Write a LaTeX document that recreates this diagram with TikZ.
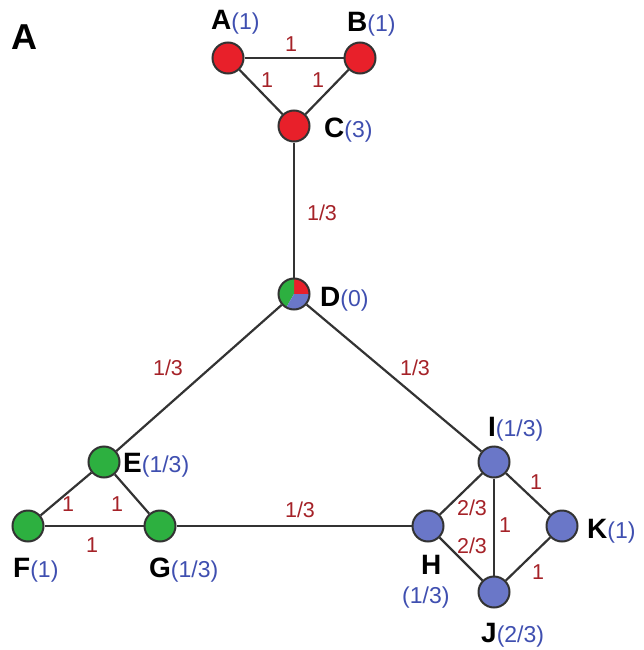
\documentclass[tikz,border=0pt]{standalone}
\usepackage{fontspec}
\setmainfont{Liberation Sans}
\definecolor{nred}{HTML}{E8202A}
\definecolor{ngreen}{HTML}{2DB040}
\definecolor{nblue}{HTML}{6A77C8}
\definecolor{tblue}{HTML}{3F4FB0}
\definecolor{tred}{HTML}{A52228}
\definecolor{edgec}{HTML}{333333}
\newcommand{\bval}[1]{\textcolor{tblue}{\fontsize{23}{23}\selectfont\mdseries#1}}
\begin{document}
\begin{tikzpicture}[x=1pt,y=-1pt,
  vert/.style={circle,minimum size=31pt,inner sep=0pt,draw=edgec,line width=2pt},
  rv/.style={vert,fill=nred},
  gv/.style={vert,fill=ngreen},
  bv/.style={vert,fill=nblue},
  edge/.style={draw=edgec,line width=2.2pt},
  wl/.style={text=tred,font=\fontsize{21.5}{21.5}\selectfont,inner sep=0pt},
  nl/.style={anchor=base west,inner sep=0pt,font=\fontsize{28}{28}\selectfont\bfseries},
  bl/.style={text=tblue,font=\fontsize{23}{23}\selectfont\mdseries}]
\useasboundingbox (0,0) rectangle (644,650);
% vertices
\node[rv] (A) at (228,58) {};
\node[rv] (B) at (360,58) {};
\node[rv] (C) at (294,126) {};
\node[vert,draw=none] (D) at (294,294) {};
\node[gv] (E) at (104,462) {};
\node[gv] (F) at (28,526) {};
\node[gv] (G) at (160,526) {};
\node[bv] (H) at (428,526) {};
\node[bv] (I) at (494,462) {};
\node[bv] (K) at (562,526) {};
\node[bv] (J) at (494,592) {};
% pie for D (y axis points down: negative angles go up)
\fill[nred] (D.center) -- ++(0:15.5) arc[start angle=0,end angle=-90,radius=15.5] -- cycle;
\fill[ngreen] (D.center) -- ++(-90:15.5) arc[start angle=-90,end angle=-240,radius=15.5] -- cycle;
\fill[nblue] (D.center) -- ++(-240:15.5) arc[start angle=-240,end angle=-360,radius=15.5] -- cycle;
\draw[edgec,line width=2pt] (D.center) circle[radius=15.5];
% edges
\path[edge] (A) -- (B);
\path[edge] (A) -- (C);
\path[edge] (B) -- (C);
\path[edge] (C) -- (D);
\path[edge] (D) -- (E);
\path[edge] (D) -- (I);
\path[edge] (E) -- (F);
\path[edge] (E) -- (G);
\path[edge] (F) -- (G);
\path[edge] (G) -- (H);
\path[edge] (H) -- (I);
\path[edge] (H) -- (J);
\path[edge] (I) -- (J);
\path[edge] (I) -- (K);
\path[edge] (J) -- (K);
% edge weights
\node[wl] (wAB) at (291,44) {1};
\node[wl] (wAC) at (267,80) {1};
\node[wl] (wBC) at (318,80) {1};
\node[wl] (wCD) at (322,213) {1/3};
\node[wl] (wDE) at (168,368) {1/3};
\node[wl] (wDI) at (415,368) {1/3};
\node[wl] (wEF) at (68,504) {1};
\node[wl] (wEG) at (117,504) {1};
\node[wl] (wFG) at (92,545) {1};
\node[wl] (wGH) at (300,510) {1/3};
\node[wl] (wHI) at (472,508) {2/3};
\node[wl] (wHJ) at (472,546) {2/3};
\node[wl] (wIJ) at (505,525) {1};
\node[wl] (wIK) at (536,482) {1};
\node[wl] (wJK) at (538,572) {1};
% vertex labels
\node[nl] (lA) at (211,30) {A\bval{(1)}};
\node[nl] (lB) at (347,32) {B\bval{(1)}};
\node[nl] (lC) at (324,137) {C\bval{(3)}};
\node[nl] (lD) at (320,306) {D\bval{(0)}};
\node[nl] (lE) at (123,472) {E\bval{(1/3)}};
\node[nl] (lF) at (13,577) {F\bval{(1)}};
\node[nl] (lG) at (149,577) {G\bval{(1/3)}};
\node[nl] (lH) at (421,574) {H};
\node[nl,bl] (lH2) at (402,603) {(1/3)};
\node[nl] (lI) at (488,436) {I\bval{(1/3)}};
\node[nl] (lK) at (587,538) {K\bval{(1)}};
\node[nl] (lJ) at (481,642) {J\bval{(2/3)}};
% panel label
\node[nl,font=\fontsize{36}{36}\selectfont\bfseries] (panel) at (11,50) {A};
\end{tikzpicture}
\end{document}
